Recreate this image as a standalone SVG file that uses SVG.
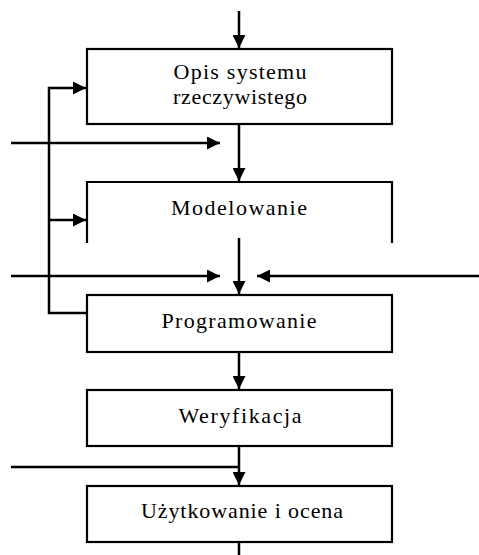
<svg xmlns="http://www.w3.org/2000/svg" width="479" height="555" viewBox="0 0 479 555">
  <style>
    .box { fill: #fff; stroke: #000; stroke-width: 2.2; }
    .open { fill: none; stroke: #000; stroke-width: 2.2; }
    .lbl { font-family: 'Liberation Serif', 'DejaVu Serif', serif; font-size: 22px; fill: #000; text-anchor: middle; }
    .conn { fill: none; stroke: #000; stroke-width: 2.5; }
  </style>
  <defs>
    <marker id="ah" viewBox="0 0 13 13" refX="13" refY="6.5" markerWidth="13" markerHeight="13" markerUnits="userSpaceOnUse" orient="auto">
      <path d="M0,0 L13,6.5 L0,13 Z" fill="#000"/>
    </marker>
  </defs>
  <rect width="479" height="555" fill="#fff"/>

  <g id="n1">
    <rect class="box" x="87" y="49" width="305" height="75"/>
    <text class="lbl" x="240" y="79" textLength="133" lengthAdjust="spacing">Opis systemu</text>
    <text class="lbl" x="240" y="104" textLength="134" lengthAdjust="spacing">rzeczywistego</text>
  </g>
  <g id="n2">
    <path class="open" d="M87,243 V182 H392 V243"/>
    <text class="lbl" x="239" y="215" textLength="136" lengthAdjust="spacing">Modelowanie</text>
  </g>
  <g id="n3">
    <rect class="box" x="87" y="295" width="305" height="57"/>
    <text class="lbl" x="239" y="328" textLength="155" lengthAdjust="spacing">Programowanie</text>
  </g>
  <g id="n4">
    <rect class="box" x="87" y="390" width="305" height="56"/>
    <text class="lbl" x="240" y="423" textLength="123" lengthAdjust="spacing">Weryfikacja</text>
  </g>
  <g id="n5">
    <rect class="box" x="87" y="486" width="305" height="56"/>
    <text class="lbl" x="242" y="518" textLength="202" lengthAdjust="spacing">Użytkowanie i ocena</text>
  </g>

  <g id="connectors">
    <path class="conn" d="M239,11 V48" marker-end="url(#ah)"/>
    <path class="conn" d="M239,124 V181" marker-end="url(#ah)"/>
    <path class="conn" d="M239,238 V294" marker-end="url(#ah)"/>
    <path class="conn" d="M239,352 V389" marker-end="url(#ah)"/>
    <path class="conn" d="M239,446 V485" marker-end="url(#ah)"/>
    <path class="conn" d="M239,542 V555"/>
    <path class="conn" d="M11,143 H220" marker-end="url(#ah)"/>
    <path class="conn" d="M11,276 H220" marker-end="url(#ah)"/>
    <path class="conn" d="M479,276 H257" marker-end="url(#ah)"/>
    <path class="conn" d="M11,467 H239"/>
    <path class="conn" d="M87,313 H49 V88 H86" marker-end="url(#ah)"/>
    <path class="conn" d="M49,220 H86" marker-end="url(#ah)"/>
  </g>
</svg>
